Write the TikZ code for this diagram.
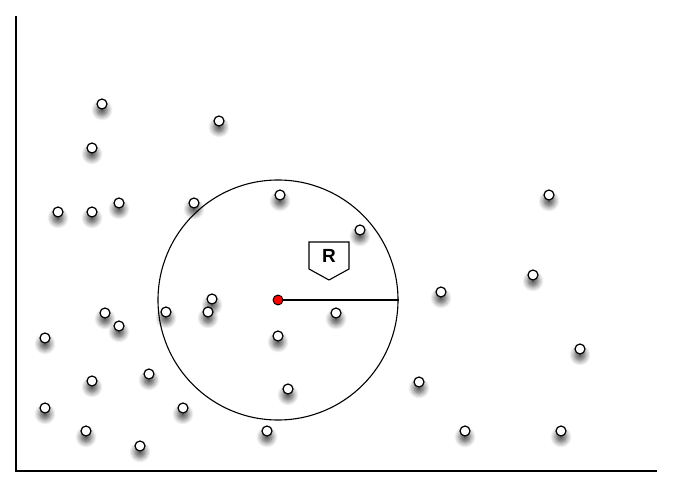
\documentclass[tikz,border=0pt]{standalone}
\usepackage{fontspec}
\setmainfont{Liberation Sans}
\usetikzlibrary{shadows.blur}
\begin{document}
\begin{tikzpicture}[x=1pt,y=-1pt,
  pt/.style={circle,draw=black,fill=white,line width=1.2pt,inner sep=0pt,minimum size=10pt,
    blur shadow={shadow xshift=0pt,shadow yshift=-6pt,shadow blur radius=6pt,shadow opacity=75,shadow blur steps=10}},
  axis/.style={line width=1.1pt},
]
\useasboundingbox (0,0) rectangle (673,490);
\coordinate (ytop) at (16,16);
\coordinate (orig) at (16,471);
\coordinate (xend) at (657,471);
\draw[axis] (ytop) -- (orig) -- (xend);
% points
\foreach \x/\y [count=\i] in {102/104,219/121,92/148,58/212,92/212,119/203,194/203,280/195,360/230,549/195,533/275,441/292,212/299,208/312,166/312,105/313,119/326,45/338,336/313,278/336,580/349,149/374,92/381,288/389,419/382,45/408,183/408,86/431,140/446,267/431,465/431,561/431}
  \node[pt] (p\i) at (\x,\y) {};
% circle
\node[circle,draw=black,line width=1.1pt,minimum size=240pt,inner sep=0pt] (C) at (278,300) {};
\node[circle,draw=black,fill=red,line width=0.9pt,inner sep=0pt,minimum size=10pt] (c) at (278,300) {};
\draw[line width=1.1pt] (c.east) -- (C.east);
% R label
\node[font=\bfseries\fontsize{19}{19}\selectfont,inner sep=0pt] (R) at (329,256) {R};
\draw[line width=1.1pt,line join=miter] ([shift={(-20,-14)}]R.center) -- ([shift={(20,-14)}]R.center) -- ([shift={(20,13)}]R.center) -- ([shift={(0,24)}]R.center) -- ([shift={(-20,13)}]R.center) -- cycle;
\end{tikzpicture}
\end{document}
